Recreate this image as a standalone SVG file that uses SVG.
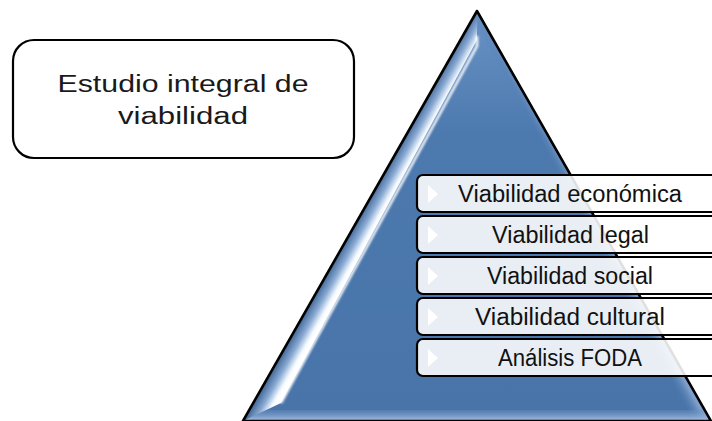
<svg xmlns="http://www.w3.org/2000/svg" width="712" height="421" viewBox="0 0 712 421">
  <style>
    .lbl { font-family: "Liberation Sans", Arial, sans-serif; font-size: 23px; fill: #111; text-anchor: middle; }
    .title { font-family: "Liberation Sans", Arial, sans-serif; font-size: 23.5px; fill: #1a1a1a; text-anchor: middle; }
    .box { fill: #ffffff; fill-opacity: 0.88; stroke: #000; stroke-width: 2.2; }
    .tri-arrow { fill: #ffffff; }
  </style>
  <defs>
    <linearGradient id="triFill" x1="0" y1="11" x2="0" y2="421" gradientUnits="userSpaceOnUse">
      <stop offset="0" stop-color="#6a93c6"/>
      <stop offset="0.3" stop-color="#4c79ae"/>
      <stop offset="1" stop-color="#4874a9"/>
    </linearGradient>
    <linearGradient id="leftBevel" x1="361" y1="215" x2="377" y2="224" gradientUnits="userSpaceOnUse">
      <stop offset="0" stop-color="#4a6f9e"/>
      <stop offset="0.45" stop-color="#88a9d2"/>
      <stop offset="0.85" stop-color="#f2f8ff"/>
      <stop offset="1" stop-color="#ffffff"/>
    </linearGradient>
    <linearGradient id="rightBevel" x1="594" y1="215" x2="583" y2="221" gradientUnits="userSpaceOnUse">
      <stop offset="0" stop-color="#7f9fca"/>
      <stop offset="1" stop-color="#4c79ae" stop-opacity="0"/>
    </linearGradient>
    <linearGradient id="bottomBevel" x1="0" y1="404" x2="0" y2="421" gradientUnits="userSpaceOnUse">
      <stop offset="0" stop-color="#4874a9" stop-opacity="0"/>
      <stop offset="1" stop-color="#a9c3e3"/>
    </linearGradient>
    <filter id="soft" x="-20%" y="-20%" width="140%" height="140%">
      <feGaussianBlur stdDeviation="0.9"/>
    </filter>
  </defs>

  <g id="pyramid">
    <polygon points="477,11 243,421 711,421" fill="url(#triFill)"/>
    <polygon points="477,11 711,421 690,421 477,40" fill="url(#rightBevel)"/>
    <polygon points="250,410 704,410 711,421 243,421" fill="url(#bottomBevel)"/>
    <polygon points="477,11 477,40 281,403 249,418 243,421" fill="url(#leftBevel)"/>
    <path d="M477,36 L477,46 L281,403" fill="none" stroke="#ffffff" stroke-width="2.5" filter="url(#soft)"/>
    <polygon points="477,11 243,421 711,421" fill="none" stroke="#000" stroke-width="2.6" stroke-linejoin="round"/>
  </g>

  <g id="title-box">
    <rect x="13" y="40" width="341" height="118" rx="21" ry="21" fill="#ffffff" stroke="#000" stroke-width="2.2"/>
    <text class="title" x="183" y="91.5" textLength="251" lengthAdjust="spacingAndGlyphs">Estudio integral de</text>
    <text class="title" x="183" y="123.5" textLength="130" lengthAdjust="spacingAndGlyphs">viabilidad</text>
  </g>

  <g id="item-1">
    <rect class="box" x="417" y="175" width="310" height="37" rx="6"/>
    <polygon class="tri-arrow" points="428,185 428,203 438,194"/>
    <text class="lbl" x="570" y="201.5" textLength="224" lengthAdjust="spacingAndGlyphs">Viabilidad económica</text>
  </g>
  <g id="item-2">
    <rect class="box" x="417" y="216" width="310" height="37" rx="6"/>
    <polygon class="tri-arrow" points="428,226 428,244 438,235"/>
    <text class="lbl" x="570.5" y="242.5" textLength="157" lengthAdjust="spacingAndGlyphs">Viabilidad legal</text>
  </g>
  <g id="item-3">
    <rect class="box" x="417" y="257" width="310" height="37" rx="6"/>
    <polygon class="tri-arrow" points="428,267 428,285 438,276"/>
    <text class="lbl" x="570" y="283.5" textLength="166" lengthAdjust="spacingAndGlyphs">Viabilidad social</text>
  </g>
  <g id="item-4">
    <rect class="box" x="417" y="298" width="310" height="37" rx="6"/>
    <polygon class="tri-arrow" points="428,308 428,326 438,317"/>
    <text class="lbl" x="570" y="324.5" textLength="190" lengthAdjust="spacingAndGlyphs">Viabilidad cultural</text>
  </g>
  <g id="item-5">
    <rect class="box" x="417" y="339" width="310" height="37" rx="6"/>
    <polygon class="tri-arrow" points="428,349 428,367 438,358"/>
    <text class="lbl" x="570" y="365.5" textLength="144" lengthAdjust="spacingAndGlyphs">Análisis FODA</text>
  </g>

  <g id="connectors"/>
</svg>
